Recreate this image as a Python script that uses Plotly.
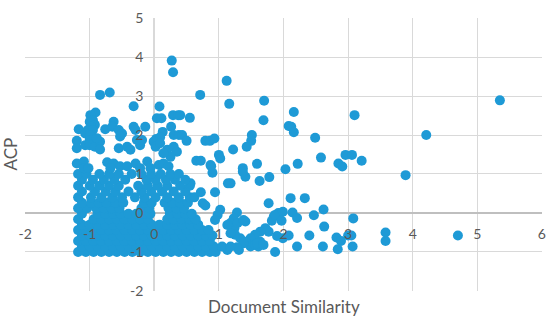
import plotly.graph_objects as go

# dense core of the cloud: ACP level -> document similarity values
core_rows = {
    -1.00: [-1.18, -1.06, -0.94, -0.82, -0.70, -0.58, -0.46, -0.34, -0.22, -0.10, 0.02, 0.14, 0.26, 0.38, 0.50, 0.62, 0.74, 0.86, 0.95],
    -0.86: [-1.12, -1.00, -0.88, -0.76, -0.64, -0.52, -0.40, -0.28, -0.16, -0.04, 0.08, 0.20, 0.32, 0.44, 0.56, 0.68, 0.80, 0.92],
    -0.72: [-1.18, -1.06, -0.94, -0.82, -0.70, -0.58, -0.46, -0.34, -0.22, -0.10, 0.02, 0.14, 0.26, 0.38, 0.50, 0.62, 0.74, 0.86],
    -0.58: [-1.12, -1.00, -0.88, -0.76, -0.64, -0.52, -0.40, -0.28, -0.16, -0.04, 0.08, 0.20, 0.32, 0.44, 0.56, 0.68, 0.80, 0.90],
    -0.44: [-1.18, -1.06, -0.94, -0.82, -0.70, -0.58, -0.46, -0.34, -0.22, -0.10, 0.02, 0.14, 0.26, 0.38, 0.50, 0.62, 0.74, 0.84],
    -0.30: [-1.12, -1.00, -0.88, -0.76, -0.64, -0.52, -0.40, -0.28, -0.16, -0.04, 0.08, 0.20, 0.32, 0.44, 0.56, 0.68],
    -0.16: [-1.18, -0.94, -0.82, -0.70, -0.58, -0.46, -0.34, -0.22, -0.10, 0.20, 0.30, 0.42, 0.54, 0.64],
    -0.02: [-1.12, -0.88, -0.76, -0.64, -0.52, -0.40, -0.28, -0.16, -0.06, 0.24, 0.36, 0.48, 0.58],
    0.12: [-1.18, -1.04, -0.90, -0.78, -0.66, -0.54, -0.20, -0.08, 0.22, 0.34, 0.46],
    0.26: [-1.12, -0.98, -0.86, -0.74, -0.60, -0.48, -0.16, -0.04, 0.16, 0.28, 0.40, 0.52],
    0.40: [-1.18, -0.98, -0.82, -0.65, -0.50, -0.30, -0.15, 0.02, 0.20, 0.38, 0.55, 0.62],
    0.55: [-1.12, -0.92, -0.75, -0.60, -0.40, -0.20, -0.05, 0.12, 0.30, 0.48],
    0.70: [-1.18, -1.00, -0.85, -0.70, -0.55, -0.25, -0.10, 0.05, 0.20, 0.40, 0.55],
    0.85: [-1.12, -0.95, -0.78, -0.62, -0.45, -0.12, 0.02, 0.18, 0.32],
    1.00: [-1.18, -1.05, -0.85, -0.70, -0.55, -0.35, -0.20, -0.05, 0.10, 0.25, 0.38],
}

# upper-left group
upper_sim = [-0.84, -0.69, -0.32, 0.08, -0.91, -0.99, -1.00, -0.95, -0.92, -0.98, -1.03, -0.95, -1.17,
             -1.20, -1.20, -1.07, -1.00, -0.93, -1.00, -1.07, -1.00, -0.92, -0.84, -0.84, -0.89, -0.76,
             -0.63, -0.65, -0.55, -0.50, -0.53, -0.32, -0.29, -0.14, -0.55, -0.42, -0.37, -0.22, -0.27,
             -0.19, 0.04, 0.11, 0.29, 0.37, 0.26, 0.13, 0.30, 0.38, 0.03, 0.09, -0.01, 0.02, 0.09, 0.20,
             0.30, 0.35, 0.25, 0.14, -1.20, -1.09, -1.09, -1.02, -0.73, -0.63, -0.68, -0.53, -0.42,
             -0.29, -0.22, -0.11, -0.06, 0.07, 0.14, 0.22]
upper_acp = [3.03, 3.09, 2.74, 2.73, 2.58, 2.51, 2.34, 2.38, 2.26, 2.21, 2.13, 2.13, 2.15,
             1.85, 1.66, 2.04, 2.00, 1.87, 1.87, 1.74, 1.74, 1.70, 1.83, 1.63, 1.92, 2.15,
             2.34, 2.21, 2.13, 2.04, 1.96, 2.21, 2.13, 2.21, 1.66, 1.70, 1.62, 1.74, 1.87,
             1.87, 2.43, 2.43, 2.51, 2.51, 2.21, 2.08, 2.00, 2.00, 1.90, 1.94, 1.83, 1.70, 1.79, 1.62,
             1.70, 1.57, 1.44, 1.53, 1.27, 1.32, 1.15, 1.15, 1.30, 1.27, 1.15, 1.20, 1.20,
             1.27, 1.15, 1.32, 1.15, 1.23, 1.27, 1.20]

# middle group
mid_sim = [0.43, 0.50, 0.55, 0.40, 0.79, 0.86, 0.93, 1.51, 1.50, 1.43, 1.22, 1.00, 1.02, 0.65, 0.72,
           0.88, 1.37, 1.59, 0.90, 0.87, 1.41, 1.37, 1.63, 1.78, 1.14, 1.18, 0.56, 0.48, 0.72, 0.94,
           1.77, 0.75, 0.79, 1.02, 0.98, 0.94, 1.28, 1.23, 1.18, 1.24, 1.29, 1.38, 1.41, 1.13,
           1.77, 1.72, 1.64, 1.56, 1.49, 1.41, 1.33, 1.25, 1.18, 1.49, 1.56, 1.64, 1.61, 1.31, 1.13,
           1.05, 1.59, 1.69, 1.38, 1.28, 1.18, 1.85, 1.92, 1.82]
mid_acp = [2.00, 1.85, 2.44, 2.51, 1.85, 1.85, 1.91, 2.00, 1.85, 1.70, 1.63, 1.49, 1.40, 1.34, 1.34,
           1.20, 1.15, 1.26, 1.03, 1.23, 0.93, 1.06, 0.82, 0.92, 0.76, 0.76, 0.76, 0.85, 0.53, 0.53,
           0.25, 0.25, 0.19, 0.08, -0.05, -0.18, 0.01, -0.14, -0.26, -0.39, -0.26, -0.18, -0.22, -0.31,
           -0.48, -0.39, -0.48, -0.56, -0.65, -0.74, -0.65, -0.56, -0.52, -0.86, -0.82, -0.74, -0.86, -0.95, -0.95,
           -0.86, -0.78, -0.82, -0.78, -0.88, -0.86, -0.09, 0.00, -0.20]

# sparse outer points
outer_sim = [0.27, 0.29, 1.12, 1.16, 0.71, 1.70, 1.69, 5.35, 4.21, 3.89, 4.70, 3.58, 3.58,
             2.16, 3.10, 2.08, 2.12, 2.16, 2.49, 2.58, 2.96, 3.06, 3.21, 2.85, 2.91, 2.03, 2.22,
             2.11, 2.33, 1.87, 1.99, 2.14, 2.21, 1.97, 2.47, 2.62, 2.63, 3.08, 2.40, 2.08, 1.99, 1.90,
             2.21, 2.61, 2.82, 2.89, 2.84, 3.00, 3.05, 3.07, 1.87]
outer_acp = [3.91, 3.61, 3.39, 2.80, 3.03, 2.88, 2.38, 2.89, 2.00, 0.97, -0.58, -0.50, -0.72,
             2.59, 2.51, 2.23, 2.21, 2.07, 1.93, 1.42, 1.49, 1.49, 1.34, 1.27, 1.19, 1.12, 1.26,
             0.38, 0.38, -0.05, 0.03, 0.01, -0.13, -0.20, -0.06, 0.09, -0.35, -0.14, -0.58, -0.58, -0.65, -0.59,
             -0.86, -0.86, -0.63, -0.72, -0.93, -0.58, -0.58, -0.86, -1.00]

x_ticks = [-2, -1, 0, 1, 2, 3, 4, 5, 6]
y_ticks = [-2, -1, 0, 1, 2, 3, 4, 5]

sim, acp = [], []
for level, xs in core_rows.items():
    sim += xs
    acp += [level] * len(xs)
sim += upper_sim + mid_sim + outer_sim
acp += upper_acp + mid_acp + outer_acp

fig = go.Figure(go.Scatter(x=sim, y=acp, mode="markers",
                           marker=dict(size=10, color="#1E9AD6", line=dict(width=0))))

grid = "#d9d9d9"
font_family = "Lato, Open Sans, sans-serif"
tickfont = dict(family=font_family, size=14, color="#595959")
fig.update_layout(
    width=550, height=322,
    margin=dict(l=25, r=8, t=18, b=31),
    plot_bgcolor="white", paper_bgcolor="white",
    showlegend=False,
    xaxis=dict(range=[-2.002, 6.002], tickvals=x_ticks, ticktext=[str(v) for v in x_ticks],
               showgrid=True, gridcolor=grid, zeroline=True, zerolinecolor=grid,
               anchor="free", position=2 / 7, ticks="outside", ticklen=8,
               tickcolor="rgba(0,0,0,0)", tickfont=tickfont, showline=False, automargin=False),
    yaxis=dict(range=[-2.003, 5.003], tickvals=y_ticks, ticktext=[str(v) for v in y_ticks],
               showgrid=True, gridcolor=grid, zeroline=True, zerolinecolor="#bfbfbf",
               anchor="free", position=0.25, ticks="outside", ticklen=8,
               tickcolor="rgba(0,0,0,0)", tickfont=tickfont, showline=False, automargin=False),
    annotations=[
        dict(text="Document Similarity", xref="paper", yref="paper", x=0.5, y=0,
             yshift=-15, xanchor="center", yanchor="middle", showarrow=False,
             font=dict(family=font_family, size=17, color="#595959")),
        dict(text="ACP", xref="paper", yref="paper", x=0, y=0.5, xshift=-15,
             textangle=-90, xanchor="center", yanchor="middle", showarrow=False,
             font=dict(family=font_family, size=17, color="#595959")),
    ],
)

# page body has a default 8px margin; drop it so the figure sits at the window corner
fig.write_html("out.html", config={"displayModeBar": False},
               post_script="document.body.style.margin = '0';")
